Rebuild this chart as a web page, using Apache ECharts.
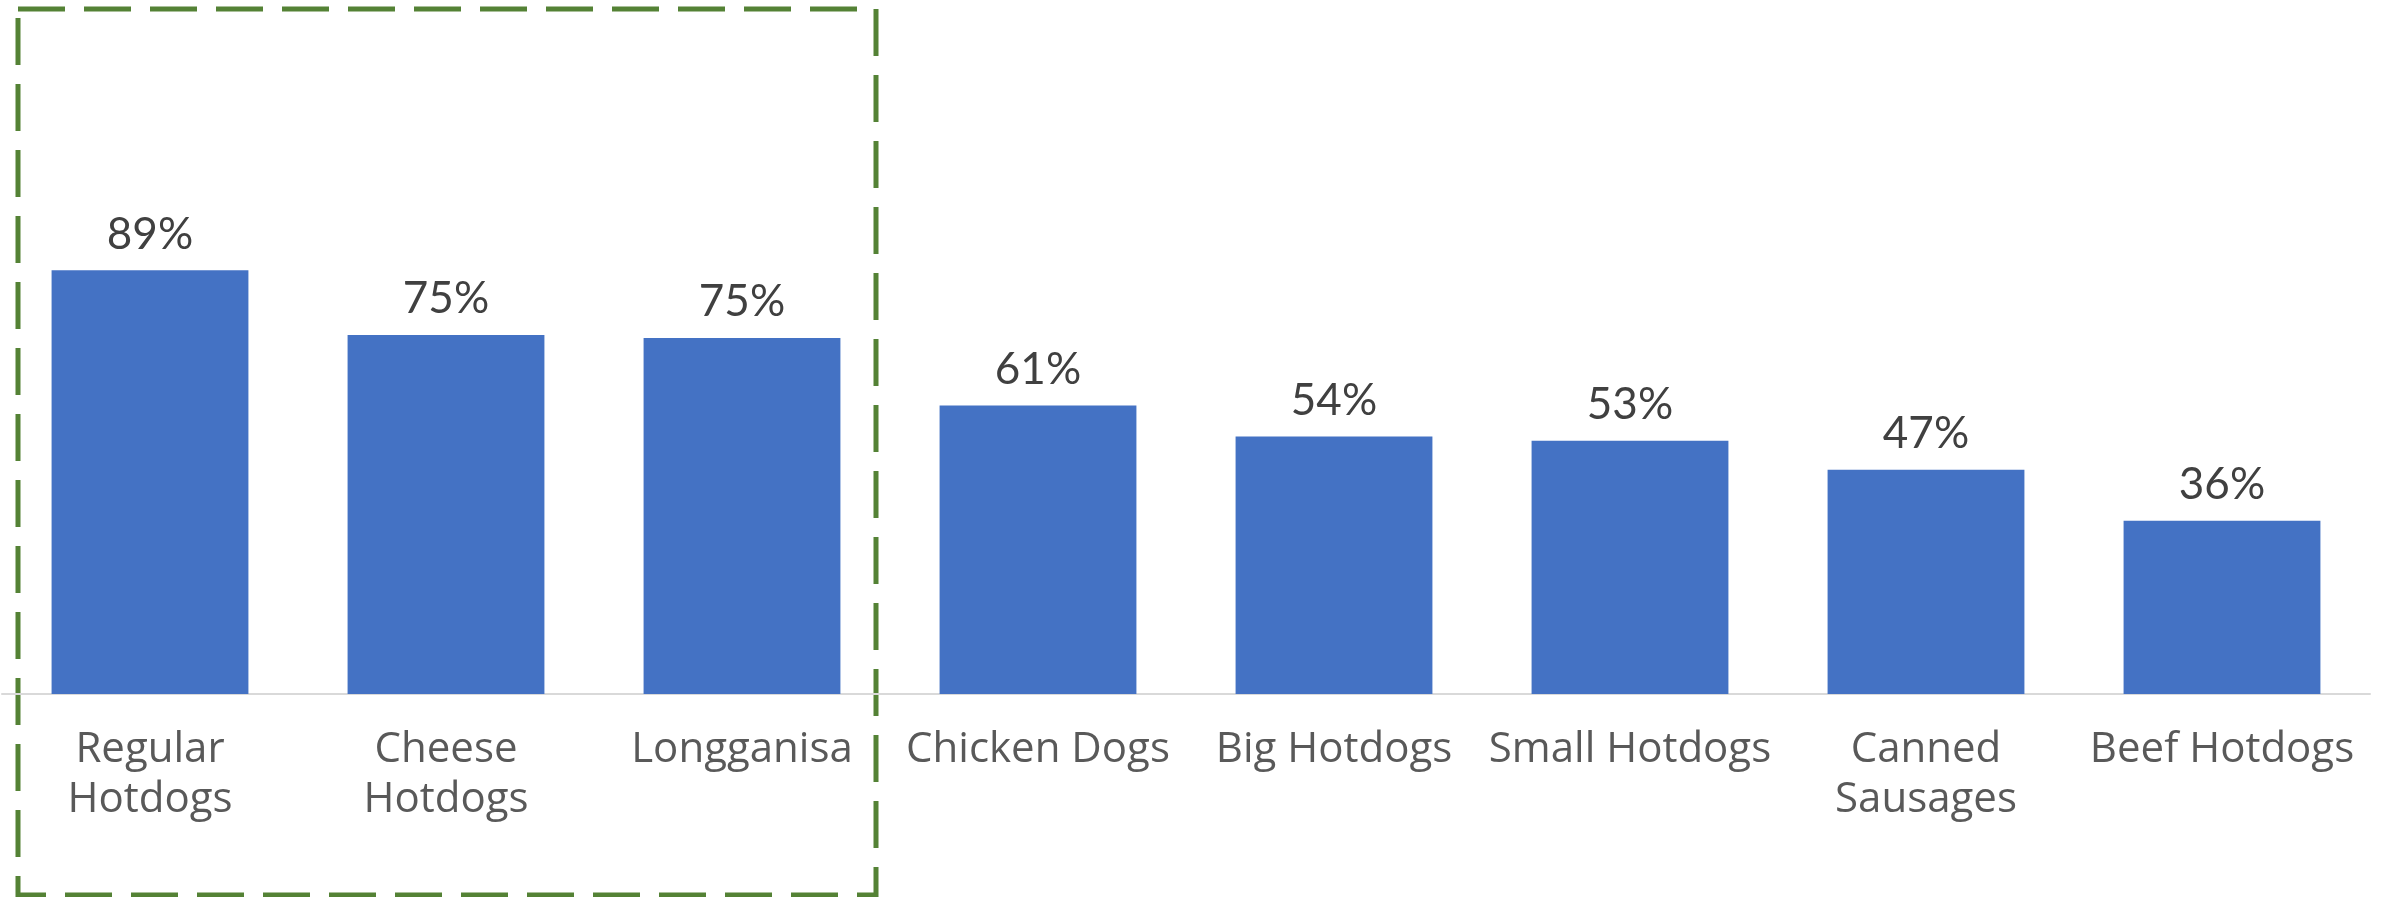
<!DOCTYPE html>
<html>
<head>
<meta charset="utf-8">
<style>
  html, body { margin: 0; padding: 0; background: #fff; }
  #chart { width: 2389px; height: 897px; }
</style>
<script src="https://cdn.jsdelivr.net/npm/echarts@6/dist/echarts.min.js"></script>
</head>
<body>
<div id="chart"></div>
<script>
// category names and their wrapped tick labels
const categories = ["Regular Hotdogs", "Cheese Hotdogs", "Longganisa", "Chicken Dogs",
  "Big Hotdogs", "Small Hotdogs", "Canned Sausages", "Beef Hotdogs"];
const tickLabels = ["Regular\nHotdogs", "Cheese\nHotdogs", "Longganisa", "Chicken Dogs",
  "Big Hotdogs", "Small Hotdogs", "Canned\nSausages", "Beef Hotdogs"];
// share of respondents
const shares = [0.89, 0.754, 0.748, 0.606, 0.541, 0.532, 0.471, 0.364];

const chart = echarts.init(document.getElementById("chart"));

const option = {
  animation: false,
  grid: { left: 2, right: 19, top: 218, bottom: 203 },
  xAxis: {
    type: "category",
    data: categories,
    axisLine: { lineStyle: { color: "#d9d9d9", width: 2 } },
    axisTick: { show: false },
    axisLabel: {
      interval: 0,
      margin: 31,
      color: "#595959",
      fontFamily: "Open Sans",
      fontSize: 42,
      lineHeight: 50,
      formatter: (val, idx) => tickLabels[idx]
    }
  },
  yAxis: {
    type: "value",
    min: 0,
    max: 1,
    show: false,
    splitLine: { show: false }
  },
  series: [
    {
      type: "bar",
      data: shares,
      barCategoryGap: "33.5%",
      itemStyle: { color: "#4472c4" },
      label: {
        show: true,
        position: "top",
        distance: 14,
        color: "#404040",
        fontFamily: "Lato",
        fontSize: 44,
        formatter: (p) => Math.round(p.value * 100) + "%"
      }
    }
  ],
  // dashed green box around the top three
  graphic: [
    {
      type: "rect",
      shape: { x: 18, y: 9, width: 858, height: 886 },
      style: {
        fill: null,
        stroke: "#548235",
        lineWidth: 5,
        lineDash: [47, 19]
      }
    }
  ]
};

chart.setOption(option);
</script>
</body>
</html>
